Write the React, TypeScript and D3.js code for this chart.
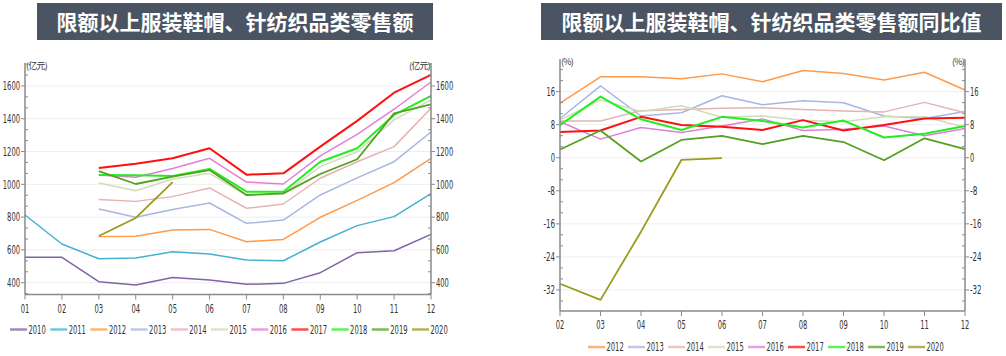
import React from "react";
import * as d3 from "d3";

// ---------- DATA ----------
const monthsL = ["01", "02", "03", "04", "05", "06", "07", "08", "09", "10", "11", "12"];
const monthsR = ["02", "03", "04", "05", "06", "07", "08", "09", "10", "11", "12"];

const yearsL = ["2010", "2011", "2012", "2013", "2014", "2015", "2016", "2017", "2018", "2019", "2020"];
const yearsR = ["2012", "2013", "2014", "2015", "2016", "2017", "2018", "2019", "2020"];

const colors: Record<string, string> = {
  "2010": "#8062a8",
  "2011": "#45b0d0",
  "2012": "#ff9a4a",
  "2013": "#a9b6e2",
  "2014": "#e6b2b2",
  "2015": "#d2dbbb",
  "2016": "#e07fd4",
  "2017": "#ff1010",
  "2018": "#22ee22",
  "2019": "#56a021",
  "2020": "#9a9a1e",
};
const widths: Record<string, number> = {
  "2017": 2, "2018": 2, "2019": 1.8, "2020": 1.8,
};

// Retail sales (亿元), months 01..12
const sales2010 = [555, 555, 406, 386, 432, 416, 390, 396, 461, 583, 595, 695];
const sales2011 = [813, 636, 546, 550, 589, 575, 538, 534, 648, 748, 803, 943];
const sales2012 = [null, null, 681, 683, 721, 725, 650, 664, 799, 902, 1010, 1159];
const sales2013 = [null, null, 850, 799, 847, 886, 762, 782, 935, 1039, 1138, 1319];
const sales2014 = [null, null, 908, 896, 925, 978, 854, 880, 1037, 1138, 1230, 1464];
const sales2015 = [null, null, 1008, 961, 1033, 1067, 933, 941, 1108, 1199, 1393, 1515];
const sales2016 = [null, null, 1057, 1043, 1096, 1159, 1014, 1002, 1173, 1305, 1458, 1624];
const sales2017 = [null, null, 1100, 1126, 1159, 1220, 1059, 1067, 1230, 1387, 1559, 1667];
const sales2018 = [null, null, 1057, 1055, 1051, 1094, 955, 955, 1138, 1220, 1423, 1539];
const sales2019 = [null, null, 1081, 1002, 1047, 1087, 935, 945, 1063, 1153, 1433, 1488];
const sales2020 = [null, null, 685, 795, 1014, null, null, null, null, null, null, null];

// YoY (%), months 02..12
const yoy2012 = [13.2, 19.6, 19.6, 19.1, 20.3, 18.4, 21.1, 20.4, 18.8, 20.7, 16.4];
const yoy2013 = [9.5, 17.4, 10.1, 10.9, 15.0, 12.8, 13.8, 13.3, 10.1, 9.5, 11.2];
const yoy2014 = [8.9, 8.9, 11.4, 11.7, 12.0, 12.1, 11.7, 11.3, 11.1, 13.4, 10.9];
const yoy2015 = [9.1, 14.0, 11.2, 12.6, 9.8, 10.1, 9.1, 8.7, 9.9, 9.9, 7.4];
const yoy2016 = [8.7, 4.5, 7.3, 6.1, 7.7, 9.4, 6.6, 6.9, 7.7, 5.3, 7.1];
const yoy2017 = [6.2, 6.6, 9.9, 7.9, 7.5, 6.7, 9.1, 6.6, 7.9, 9.5, 9.7];
const yoy2018 = [7.9, 14.8, 9.3, 6.7, 9.9, 8.9, 7.3, 9.0, 4.9, 5.8, 7.7];
const yoy2019 = [2.0, 6.6, -0.9, 4.3, 5.3, 3.3, 5.3, 3.8, -0.6, 4.7, 2.1];
const yoy2020 = [-30.5, -34.4, -17.9, -0.5, -0.1, null, null, null, null, null, null];

const ticksL = [400, 600, 800, 1000, 1200, 1400, 1600];
const ticksR = [-32, -24, -16, -8, 0, 8, 16];

const titleL = "限额以上服装鞋帽、针纺织品类零售额";
const titleR = "限额以上服装鞋帽、针纺织品类零售额同比值";
const unitL = "(亿元)";
const unitR = "(%)";

const salesSeries: Record<string, (number | null)[]> = {
  "2010": sales2010, "2011": sales2011, "2012": sales2012, "2013": sales2013,
  "2014": sales2014, "2015": sales2015, "2016": sales2016, "2017": sales2017,
  "2018": sales2018, "2019": sales2019, "2020": sales2020,
};
const yoySeries: Record<string, (number | null)[]> = {
  "2012": yoy2012, "2013": yoy2013, "2014": yoy2014, "2015": yoy2015,
  "2016": yoy2016, "2017": yoy2017, "2018": yoy2018, "2019": yoy2019, "2020": yoy2020,
};

// ---------- HELPERS ----------
const NUM_FONT = "'Liberation Sans Narrow', 'DejaVu Sans Condensed', 'Arial Narrow', sans-serif";
const TXT = "#333";
const AXIS = "#8a8a8a";

function textW(s: string) {
  let w = 0;
  for (const c of s) w += c === "-" ? 3 : 4.3;
  return w;
}

function NT({ x, y, s, anchor = "start", size = 12 }: { x: number; y: number; s: string; anchor?: string; size?: number }) {
  return (
    <text
      x={x}
      y={y}
      dy="0.35em"
      textAnchor={anchor}
      fontFamily={NUM_FONT}
      fontSize={size}
      fill={TXT}
      textLength={textW(s)}
      lengthAdjust="spacingAndGlyphs"
    >
      {s}
    </text>
  );
}

function Title({ x0, x1, text }: { x0: number; x1: number; text: string }) {
  return (
    <g>
      <rect x={x0} y={3} width={x1 - x0} height={37} fill="#4a5462" />
      <text
        x={(x0 + x1) / 2}
        y={22}
        dy="0.36em"
        textAnchor="middle"
        fill="#fff"
        fontWeight="bold"
        fontSize={21}
        fontFamily="'Noto Sans CJK SC', sans-serif"
      >
        {text}
      </text>
    </g>
  );
}

function YAxis({
  x, y, ticks, minorStep, domain, side, unit, unitAnchorX, unitAnchor,
}: {
  x: number; y: d3.ScaleLinear<number, number>; ticks: number[]; minorStep: number;
  domain: [number, number]; side: "left" | "right"; unit: string; unitAnchorX: number; unitAnchor: string;
}) {
  const dir = side === "left" ? -1 : 1;
  const minors: number[] = [];
  const start = Math.ceil(domain[0] / minorStep) * minorStep;
  for (let v = start; v <= domain[1]; v += minorStep) {
    if (!ticks.some((t) => Math.abs(t - v) < 1e-6)) minors.push(v);
  }
  const [r0, r1] = y.range();
  return (
    <g>
      <line x1={x} x2={x} y1={r0} y2={r1} stroke={AXIS} strokeWidth={1.5} />
      {ticks.map((t) => (
        <g key={"M" + t}>
          <line x1={x} x2={x + dir * 4} y1={y(t)} y2={y(t)} stroke={AXIS} strokeWidth={1} />
          <NT x={x + dir * 5} y={y(t)} s={String(t)} anchor={side === "left" ? "end" : "start"} />
        </g>
      ))}
      {minors.map((t, i) => (
        <line key={"m" + i} x1={x} x2={x - dir * 3} y1={y(t)} y2={y(t)} stroke={AXIS} strokeWidth={1} />
      ))}
      <text
        x={unitAnchorX}
        y={r1 + 3}
        dy="0.35em"
        textAnchor={unitAnchor}
        fontSize={9}
        fill={TXT}
        fontFamily="'Noto Sans CJK SC', sans-serif"
        letterSpacing={-0.8}
      >
        {unit}
      </text>
    </g>
  );
}

function Chart({
  cats, series, years, x0, x1, yTop, yBot, domain, ticks, unit, labelY,
}: {
  cats: string[]; series: Record<string, (number | null)[]>; years: string[];
  x0: number; x1: number; yTop: number; yBot: number; domain: [number, number];
  ticks: number[]; unit: string; labelY: number;
}) {
  const x = d3.scalePoint<string>().domain(cats).range([x0, x1]);
  const y = d3.scaleLinear().domain(domain).range([yBot, yTop]);
  const line = d3
    .line<number | null>()
    .defined((d) => d !== null)
    .x((_, i) => x(cats[i]) as number)
    .y((d) => y(d as number));
  const minorStep = (ticks[1] - ticks[0]) / 3;
  return (
    <g>
      {ticks.map((t) => (
        <line key={"g" + t} x1={x0} x2={x1} y1={y(t)} y2={y(t)} stroke="#eeeeee" strokeWidth={1} />
      ))}
      {years.map((yr) => (
        <path
          key={yr}
          d={line(series[yr]) || ""}
          fill="none"
          stroke={colors[yr]}
          strokeWidth={widths[yr] || 1.5}
          strokeLinejoin="round"
        />
      ))}
      <YAxis x={x0} y={y} ticks={ticks} minorStep={minorStep} domain={domain} side="left"
        unit={unit} unitAnchorX={x0 + 1} unitAnchor="start" />
      <YAxis x={x1} y={y} ticks={ticks} minorStep={minorStep} domain={domain} side="right"
        unit={unit} unitAnchorX={x1 - 1} unitAnchor="end" />
      <line x1={x0} x2={x1} y1={yBot} y2={yBot} stroke={AXIS} strokeWidth={1.5} />
      {cats.map((c) => (
        <g key={c}>
          <line x1={x(c)} x2={x(c)} y1={yBot} y2={yBot + 5} stroke={AXIS} strokeWidth={1} />
          <NT x={x(c) as number} y={labelY} s={c} anchor="middle" />
        </g>
      ))}
    </g>
  );
}

function Legend({ years, x0, y, step }: { years: string[]; x0: number; y: number; step: number }) {
  return (
    <g>
      {years.map((yr, i) => {
        const lx = x0 + i * step;
        return (
          <g key={yr}>
            <line x1={lx} x2={lx + 17} y1={y} y2={y} stroke={colors[yr]} strokeOpacity={0.75} strokeWidth={2.5} />
            <NT x={lx + 18.5} y={y} s={yr} />
          </g>
        );
      })}
    </g>
  );
}

export default function App() {
  return (
    <svg width={1006} height={356} style={{ position: "absolute", left: 0, top: 0, background: "#fff" }}>
      <rect width={1006} height={356} fill="#fff" />
      <Title x0={37} x1={433} text={titleL} />
      <Title x0={541} x1={1002} text={titleR} />
      <Chart cats={monthsL} series={salesSeries} years={yearsL} x0={25} x1={431}
        yTop={63} yBot={294.5} domain={[328, 1740]} ticks={ticksL} unit={unitL} labelY={309} />
      <Chart cats={monthsR} series={yoySeries} years={yearsR} x0={560} x1={965}
        yTop={59} yBot={311} domain={[-37.1, 23.9]} ticks={ticksR} unit={unitR} labelY={325} />
      <Legend years={yearsL} x0={10} y={329.5} step={40.2} />
      <Legend years={yearsR} x0={588} y={347} step={40} />
    </svg>
  );
}
